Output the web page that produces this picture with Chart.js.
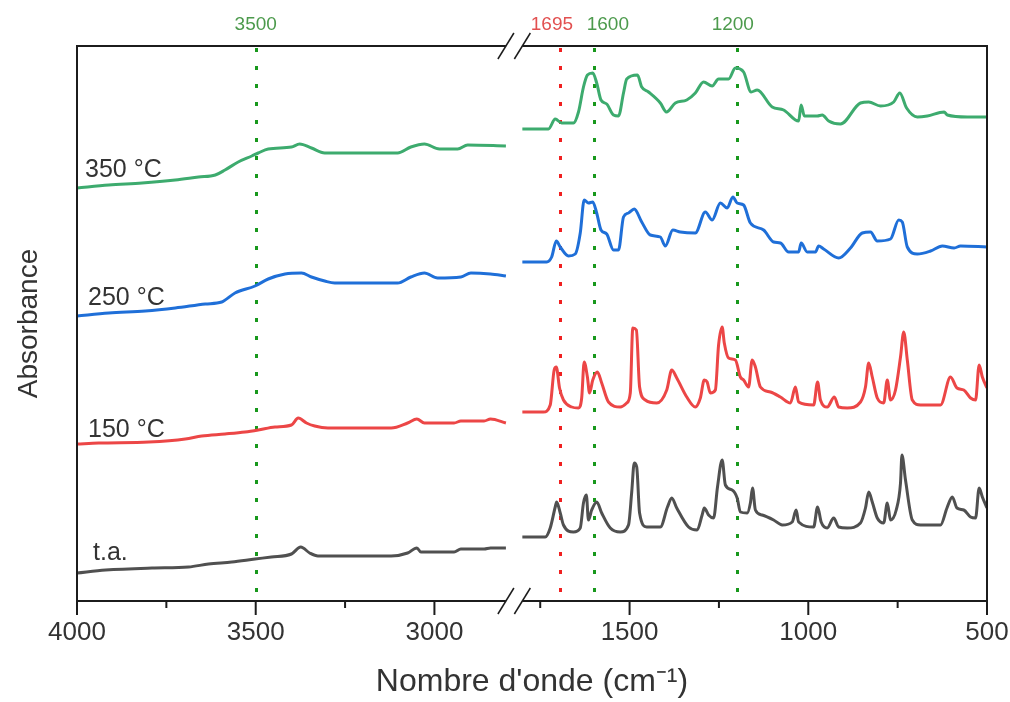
<!DOCTYPE html>
<html>
<head>
<meta charset="utf-8">
<title>Spectres IR</title>
<script src="https://cdn.jsdelivr.net/npm/chart.js@4.4.1/dist/chart.umd.min.js"></script>
<style>
  html, body { margin: 0; padding: 0; background: #fff; }
</style>
</head>
<body>
<canvas id="chart" width="1010" height="702"></canvas>
<script>
// Spectra: wavenumber (cm-1) and absorbance (offset, a.u.)
// Each spectrum is split in two parts around the axis break (2800 -> 1800 cm-1).

const seriesNames = ['t.a.', '150 °C', '250 °C', '350 °C'];
const seriesColors = ['#505050', '#ec4646', '#1f6fd8', '#3dab6e'];

// t.a.
const wnTaLeft = [4000, 3920, 3790, 3688, 3632, 3567, 3502, 3456, 3400, 3374, 3349, 3326, 3121, 3075, 3049, 3038, 2945, 2926, 2861, 2843, 2800];
const absTaLeft = [0.28, 0.31, 0.33, 0.34, 0.37, 0.39, 0.42, 0.44, 0.47, 0.54, 0.48, 0.45, 0.45, 0.48, 0.53, 0.49, 0.49, 0.52, 0.52, 0.53, 0.53];
const wnTaRight = [1800, 1736, 1722, 1708, 1704, 1694, 1685, 1657, 1638, 1629, 1621, 1615, 1606, 1592, 1578, 1554, 1526, 1503, 1494, 1487,
  1480, 1472, 1452, 1414, 1394, 1382, 1368, 1335, 1311, 1297, 1291, 1279, 1265, 1254, 1241, 1232, 1213, 1199, 1190, 1171,
  1162, 1156, 1148, 1129, 1097, 1073, 1045, 1034, 1027, 985, 974, 964, 947, 929, 915, 891, 854, 840, 831, 821,
  807, 789, 779, 770, 754, 742, 738, 728, 709, 686, 630, 612, 597, 584, 565, 546, 532, 522, 513, 500];
const absTaRight = [0.64, 0.64, 0.73, 0.94, 0.99, 0.88, 0.76, 0.69, 0.73, 0.98, 1.06, 0.81, 0.91, 0.99, 0.88, 0.73, 0.69, 0.76, 1.09, 1.38,
  1.34, 0.88, 0.74, 0.74, 0.94, 1.03, 0.93, 0.74, 0.71, 0.86, 0.93, 0.86, 0.83, 1.14, 1.41, 1.16, 1.11, 1.03, 0.89, 0.88,
  0.98, 1.13, 0.91, 0.86, 0.81, 0.76, 0.79, 0.91, 0.79, 0.74, 0.94, 0.79, 0.73, 0.83, 0.74, 0.73, 0.78, 0.93, 1.09, 0.99,
  0.83, 0.78, 0.98, 0.81, 0.91, 1.18, 1.46, 1.21, 0.81, 0.76, 0.76, 0.93, 1.04, 0.93, 0.91, 0.84, 0.83, 1.13, 1.04, 0.93];

// 150 °C
const wn150Left = [4000, 3939, 3799, 3697, 3651, 3586, 3530, 3493, 3446, 3400, 3381, 3358, 3335, 3298, 3121, 3075, 3049, 3028, 2945, 2926, 2861, 2843, 2800];
const abs150Left = [1.57, 1.58, 1.59, 1.62, 1.65, 1.67, 1.69, 1.71, 1.74, 1.76, 1.83, 1.78, 1.75, 1.73, 1.73, 1.78, 1.82, 1.78, 1.78, 1.80, 1.80, 1.82, 1.78];
const wn150Right = [1800, 1741, 1722, 1711, 1705, 1696, 1685, 1662, 1643, 1634, 1627, 1618, 1612, 1603, 1590, 1578, 1559, 1526, 1508, 1498,
  1491, 1481, 1472, 1456, 1424, 1396, 1382, 1368, 1340, 1316, 1302, 1291, 1283, 1274, 1260, 1251, 1241, 1235, 1223, 1204,
  1190, 1181, 1167, 1157, 1148, 1134, 1106, 1078, 1050, 1036, 1027, 985, 974, 966, 947, 927, 915, 891, 854, 840,
  831, 821, 807, 789, 779, 770, 756, 742, 733, 723, 709, 686, 630, 602, 584, 565, 546, 532, 522, 513, 500];
const abs150Right = [1.89, 1.89, 1.96, 2.31, 2.34, 2.13, 2.01, 1.94, 1.93, 2.03, 2.39, 2.24, 2.08, 2.21, 2.29, 2.18, 1.99, 1.94, 1.98, 2.08,
  2.73, 2.71, 2.14, 2.01, 1.98, 2.11, 2.31, 2.23, 2.04, 1.94, 2.03, 2.21, 2.19, 2.08, 2.11, 2.56, 2.74, 2.58, 2.43, 2.41,
  2.24, 2.21, 2.14, 2.41, 2.34, 2.14, 2.09, 2.04, 1.98, 2.14, 1.99, 1.96, 2.19, 2.01, 1.94, 2.04, 1.94, 1.93, 1.99, 2.14,
  2.38, 2.24, 2.03, 1.98, 2.21, 2.01, 2.11, 2.44, 2.69, 2.41, 2.01, 1.96, 1.96, 2.24, 2.13, 2.11, 2.03, 2.01, 2.36, 2.24, 2.13];

// 250 °C
const wn250Left = [4000, 3911, 3809, 3725, 3641, 3595, 3558, 3502, 3465, 3418, 3372, 3344, 3307, 3279, 3103, 3066, 3028, 2991, 2926, 2898, 2843, 2800];
const abs250Left = [2.85, 2.88, 2.90, 2.93, 2.97, 2.99, 3.08, 3.15, 3.22, 3.27, 3.28, 3.24, 3.20, 3.18, 3.18, 3.24, 3.28, 3.23, 3.24, 3.28, 3.27, 3.25];
const wn250Right = [1800, 1732, 1718, 1705, 1694, 1671, 1652, 1638, 1627, 1615, 1603, 1592, 1580, 1564, 1545, 1531, 1517, 1503, 1487, 1466,
  1442, 1414, 1400, 1379, 1358, 1316, 1288, 1269, 1246, 1227, 1211, 1199, 1181, 1162, 1125, 1097, 1078, 1055, 1027, 1020,
  1003, 980, 971, 957, 915, 882, 849, 826, 807, 770, 747, 737, 723, 695, 658, 625, 592, 574, 500];
const abs250Right = [3.39, 3.39, 3.44, 3.60, 3.54, 3.45, 3.47, 3.68, 4.01, 3.98, 3.99, 3.88, 3.71, 3.67, 3.51, 3.51, 3.84, 3.88, 3.92, 3.79,
  3.66, 3.64, 3.55, 3.71, 3.69, 3.68, 3.89, 3.81, 3.98, 3.93, 4.04, 3.98, 3.96, 3.78, 3.71, 3.59, 3.58, 3.49, 3.49, 3.58,
  3.49, 3.49, 3.55, 3.52, 3.43, 3.53, 3.68, 3.69, 3.60, 3.62, 3.81, 3.79, 3.54, 3.47, 3.50, 3.55, 3.53, 3.55, 3.54];

// 350 °C
const wn350Left = [4000, 3911, 3818, 3725, 3660, 3613, 3586, 3549, 3511, 3493, 3465, 3400, 3377, 3344, 3307, 3103, 3066, 3028, 2986, 2935, 2907, 2800];
const abs350Left = [4.13, 4.16, 4.18, 4.21, 4.24, 4.26, 4.31, 4.39, 4.45, 4.48, 4.52, 4.54, 4.57, 4.53, 4.48, 4.48, 4.54, 4.57, 4.52, 4.52, 4.56, 4.55];
const wn350Right = [1800, 1727, 1708, 1690, 1657, 1643, 1629, 1618, 1603, 1592, 1580, 1564, 1545, 1531, 1517, 1508, 1478, 1466, 1447, 1414,
  1397, 1372, 1340, 1316, 1293, 1269, 1251, 1223, 1204, 1181, 1160, 1143, 1101, 1069, 1036, 1027, 1020, 1011, 975, 961,
  943, 910, 854, 831, 798, 761, 744, 725, 695, 667, 620, 611, 555, 500];
const abs350Right = [4.72, 4.72, 4.82, 4.78, 4.78, 4.89, 5.14, 5.26, 5.28, 5.18, 5.01, 4.97, 4.86, 4.85, 5.08, 5.22, 5.26, 5.14, 5.09, 4.98,
  4.89, 4.98, 5.01, 5.08, 5.19, 5.15, 5.22, 5.22, 5.33, 5.29, 5.09, 5.11, 4.94, 4.91, 4.81, 4.80, 4.96, 4.85, 4.85, 4.86,
  4.80, 4.77, 4.98, 4.99, 4.95, 4.99, 5.08, 4.93, 4.84, 4.85, 4.89, 4.86, 4.84, 4.84];

// Axis ticks (cm-1)
const majorTicks = [4000, 3500, 3000, 1500, 1000, 500];
const minorTicks = [3750, 3250, 1750, 1250, 750];

// Marked bands
const markerWn = [3500, 1695, 1600, 1200];
const markerColors = ['#18981c', '#f02020', '#18981c', '#18981c'];
const markerTextColors = ['#4c9a4c', '#e25050', '#4c9a4c', '#4c9a4c'];

const FONT = '"Liberation Sans", Arial, sans-serif';

// Broken axis: 4000-2800 then 1800-500, squeezed onto one linear scale
const BREAK_HIGH = 2800;
const BREAK_LOW = 1800;
const GAP = 46;

function toU(wn) {
  if (wn >= BREAK_HIGH) return 4000 - wn;
  return (4000 - BREAK_HIGH) + GAP + (BREAK_LOW - wn);
}

function fromU(u) {
  if (u <= 4000 - BREAK_HIGH) return 4000 - u;
  return BREAK_LOW - (u - (4000 - BREAK_HIGH) - GAP);
}

function points(wn, abs) {
  return wn.map((w, i) => ({ x: toU(w), y: abs[i] }));
}

const parts = [
  [wnTaLeft, absTaLeft, wnTaRight, absTaRight],
  [wn150Left, abs150Left, wn150Right, abs150Right],
  [wn250Left, abs250Left, wn250Right, abs250Right],
  [wn350Left, abs350Left, wn350Right, abs350Right]
];

const datasets = [];
parts.forEach((p, i) => {
  [points(p[0], p[1]), points(p[2], p[3])].forEach(data => {
    datasets.push({
      label: seriesNames[i],
      data,
      borderColor: seriesColors[i],
      borderWidth: 3,
      borderJoinStyle: 'round',
      pointRadius: 0,
      cubicInterpolationMode: 'monotone',
      fill: false
    });
  });
});

// Dotted band markers with their labels on top
const markers = {
  id: 'markers',
  beforeDatasetsDraw(chart) {
    const { ctx, chartArea: a, scales: { x } } = chart;
    ctx.save();
    ctx.lineWidth = 3;
    ctx.setLineDash([4, 14]);
    ctx.lineDashOffset = -2;
    markerWn.forEach((w, i) => {
      const px = Math.round(x.getPixelForValue(toU(w))) + 0.5;
      ctx.strokeStyle = markerColors[i];
      ctx.beginPath();
      ctx.moveTo(px, a.top);
      ctx.lineTo(px, a.bottom);
      ctx.stroke();
    });
    ctx.restore();
  },
  afterDraw(chart) {
    const { ctx, scales: { x } } = chart;
    const shift = [0, -8, 14, -4]; // keep 1695 and 1600 apart
    ctx.save();
    ctx.font = '19px ' + FONT;
    ctx.textAlign = 'center';
    ctx.textBaseline = 'middle';
    markerWn.forEach((w, i) => {
      ctx.fillStyle = markerTextColors[i];
      ctx.fillText(String(w), x.getPixelForValue(toU(w)) + shift[i], 25);
    });
    ctx.restore();
  }
};

// Frame with the axis break, tick marks and the spectrum labels
const frame = {
  id: 'frame',
  afterDatasetsDraw(chart) {
    const { ctx, chartArea: a, scales: { x, y } } = chart;
    const xb1 = x.getPixelForValue(toU(BREAK_HIGH));
    const xb2 = x.getPixelForValue(toU(BREAK_LOW));
    const line = (x1, y1, x2, y2) => {
      ctx.beginPath();
      ctx.moveTo(x1, y1);
      ctx.lineTo(x2, y2);
      ctx.stroke();
    };
    ctx.save();
    ctx.strokeStyle = '#1c1c1c';
    ctx.lineWidth = 2;
    line(a.left, a.top - 1, a.left, a.bottom + 1);
    line(a.right, a.top - 1, a.right, a.bottom + 1);
    [a.top, a.bottom].forEach(yy => {
      line(a.left, yy, xb1, yy);
      line(xb2, yy, a.right, yy);
    });
    majorTicks.forEach(w => {
      const px = x.getPixelForValue(toU(w));
      line(px, a.bottom, px, a.bottom + 14);
    });
    minorTicks.forEach(w => {
      const px = x.getPixelForValue(toU(w));
      line(px, a.bottom, px, a.bottom + 7);
    });
    ctx.lineWidth = 1.5;
    [a.top, a.bottom].forEach(yy => {
      [xb1, xb2].forEach(cx => line(cx - 8, yy + 13, cx + 8, yy - 13));
    });

    // labels next to the start of each spectrum
    const dx = [16, 11, 11, 8];
    const dy = [13, 7, 11, 11];
    ctx.font = '25px ' + FONT;
    ctx.fillStyle = '#333';
    ctx.textAlign = 'left';
    ctx.textBaseline = 'alphabetic';
    parts.forEach((p, i) => {
      ctx.fillText(seriesNames[i], a.left + dx[i], y.getPixelForValue(p[1][0]) - dy[i]);
    });
    ctx.restore();
  }
};

new Chart(document.getElementById('chart'), {
  type: 'line',
  data: { datasets },
  options: {
    responsive: false,
    animation: false,
    devicePixelRatio: 1,
    layout: { padding: { top: 46, right: 23, left: 0, bottom: 0 } },
    plugins: {
      legend: { display: false },
      tooltip: { enabled: false }
    },
    scales: {
      x: {
        type: 'linear',
        min: 0,
        max: toU(500),
        afterBuildTicks: scale => {
          scale.ticks = majorTicks.map(w => ({ value: toU(w) }));
        },
        afterFit: scale => {
          scale.height = 101;
          scale.paddingLeft = 0;
          scale.paddingRight = 0;
        },
        grid: { display: false, drawTicks: false },
        border: { display: false },
        ticks: {
          autoSkip: false,
          maxRotation: 0,
          padding: 16,
          color: '#333',
          font: { family: FONT, size: 26 },
          callback: value => String(Math.round(fromU(value)))
        },
        title: {
          display: true,
          text: 'Nombre d\'onde (cm⁻¹)',
          color: '#333',
          font: { family: FONT, size: 32 },
          padding: { top: 0, bottom: 1 }
        }
      },
      y: {
        min: 0,
        max: 5.55,
        afterFit: scale => { scale.width = 77; },
        grid: { display: false, drawTicks: false },
        border: { display: false },
        ticks: { display: false },
        title: {
          display: true,
          text: 'Absorbance',
          color: '#333',
          font: { family: FONT, size: 28 },
          padding: { top: 12, bottom: 0 }
        }
      }
    }
  },
  plugins: [markers, frame]
});
</script>
</body>
</html>
